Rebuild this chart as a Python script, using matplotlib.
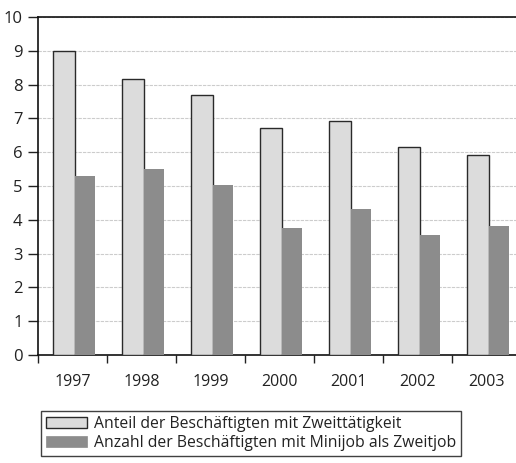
import matplotlib
matplotlib.use("Agg")
import matplotlib.pyplot as plt
import numpy as np
from matplotlib.patches import Patch

years = ["1997", "1998", "1999", "2000", "2001", "2002", "2003"]
anteil = [9.0, 8.17, 7.68, 6.72, 6.92, 6.15, 5.92]
anzahl = [5.3, 5.5, 5.03, 3.76, 4.32, 3.55, 3.82]
labels = ["Anteil der Beschäftigten mit Zweittätigkeit",
          "Anzahl der Beschäftigten mit Minijob als Zweitjob"]

plt.rcParams['font.family'] = ['Open Sans', 'DejaVu Sans']

W, H = 516, 463
fig = plt.figure(figsize=(W/100, H/100), dpi=100)
x0, x1 = 38, 521
y0, y1 = 355, 17
ax = fig.add_axes([x0/W, 1 - y0/H, (x1-x0)/W, (y0-y1)/H])

x = np.arange(len(years))
ax.bar(x - 0.12, anteil, width=0.32, color="#dcdcdc", edgecolor="#2a2a2a", linewidth=1.0, zorder=3)
ax.bar(x + 0.18, anzahl, width=0.28, color="#8c8c8c", edgecolor="none", zorder=3)

ax.set_xlim(-0.5, len(years) - 0.5)
ax.set_ylim(0, 10)
ax.set_yticks(range(0, 11))
ax.yaxis.grid(True, color="#cccccc", linewidth=0.8, linestyle=(0, (3, 1)), zorder=0)
ax.set_axisbelow(True)

ax.set_xticks(np.arange(len(years) + 1) - 0.5)
ax.set_xticklabels([])
ax.set_xticks(x, minor=True)
ax.set_xticklabels(years, minor=True, fontsize=11.5, color="#222")
ax.tick_params(axis='x', which='minor', length=0, pad=14)
ax.tick_params(axis='x', which='major', length=6, width=1, color="#222", direction='out')
ax.tick_params(axis='y', length=7, width=1, color="#222", labelsize=12, labelcolor="#222", pad=4)

for s in ['left', 'bottom', 'top']:
    ax.spines[s].set_color("#111")
    ax.spines[s].set_linewidth(1.2)
ax.spines['right'].set_visible(False)

handles = [Patch(facecolor="#dcdcdc", edgecolor="#2a2a2a", linewidth=1.0),
           Patch(facecolor="#8c8c8c", edgecolor="#8c8c8c", linewidth=0.5)]
leg = fig.legend(handles, labels, loc='upper left',
                 bbox_to_anchor=(41/W, 1 - 411/H), fontsize=11.3,
                 frameon=True, fancybox=False, edgecolor="#111",
                 handlelength=2.6, handleheight=0.7, handletextpad=0.5,
                 borderpad=0.3, labelspacing=0.2, borderaxespad=0)
leg.get_frame().set_linewidth(1.0)
for t in leg.get_texts():
    t.set_color("#222")

fig.savefig("out.png", dpi=100, facecolor="white")
